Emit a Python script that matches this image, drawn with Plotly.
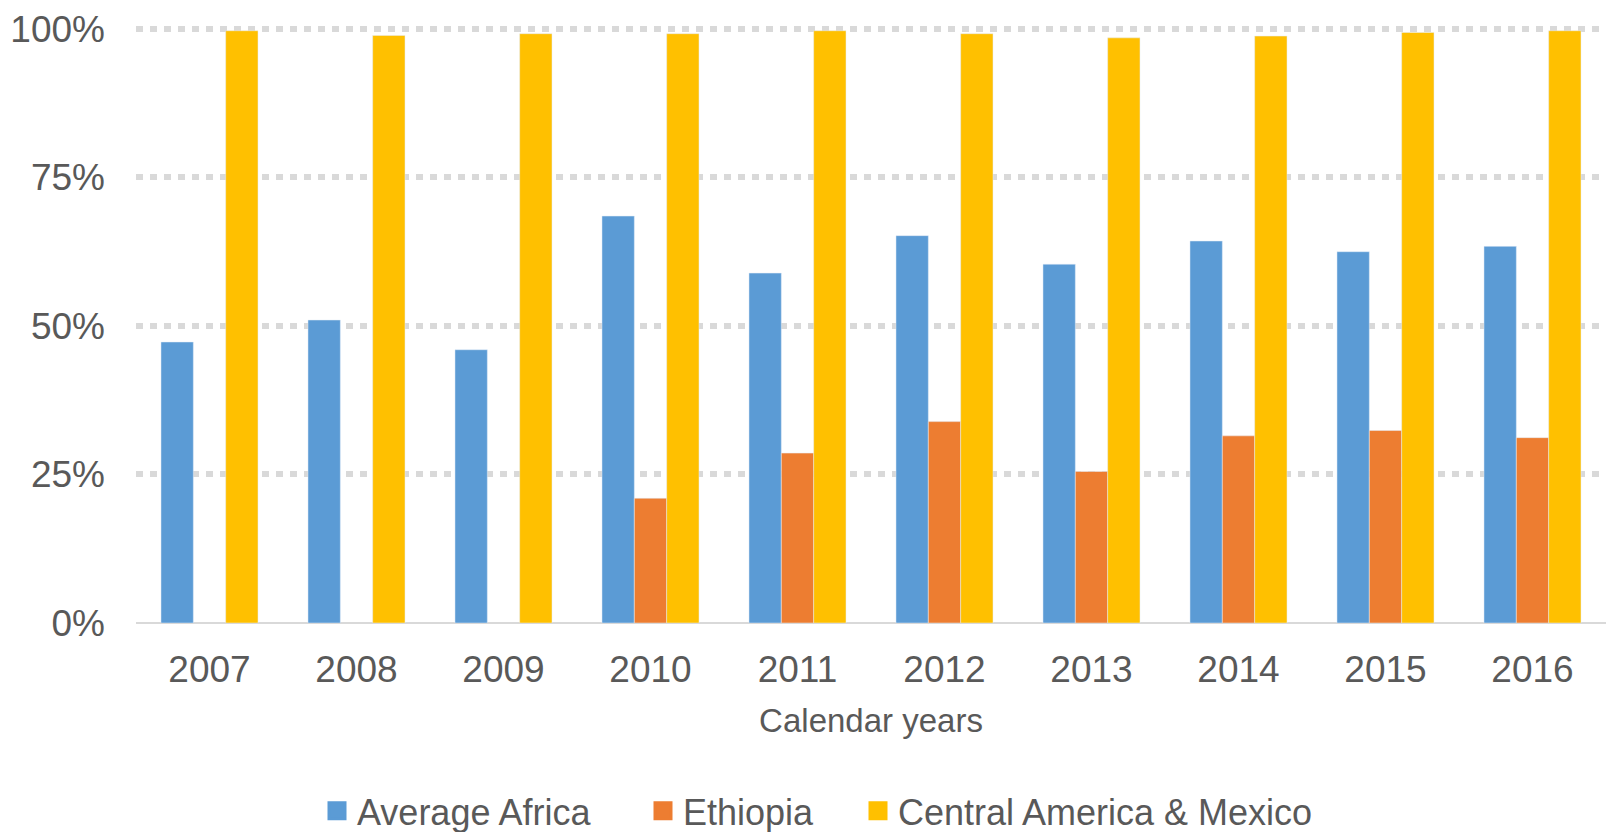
import plotly.graph_objects as go

years = ["2007", "2008", "2009", "2010", "2011", "2012", "2013", "2014", "2015", "2016"]
average_africa = [0.473, 0.510, 0.460, 0.685, 0.589, 0.652, 0.604, 0.643, 0.625, 0.634]
ethiopia = [None, None, None, 0.210, 0.286, 0.339, 0.255, 0.315, 0.324, 0.312]
central_america_mexico = [0.997, 0.989, 0.992, 0.992, 0.997, 0.992, 0.985, 0.988, 0.994, 0.997]
y_ticks = [0, 0.25, 0.5, 0.75, 1.0]
y_tick_text = ["0%", "25%", "50%", "75%", "100%"]

series = [
    ("Average Africa", average_africa, "#5B9BD5", "legend"),
    ("Ethiopia", ethiopia, "#ED7D31", "legend2"),
    ("Central America & Mexico", central_america_mexico, "#FFC000", "legend3"),
]

FONT = "Liberation Sans, Arial, sans-serif"
GREY = "#595959"

fig = go.Figure()
for name, vals, color, lg in series:
    fig.add_trace(go.Bar(
        x=years, y=vals, name=name, marker_color=color,
        showlegend=False, legendgroup=name,
    ))
    # legend proxy with a larger square symbol
    fig.add_trace(go.Scatter(
        x=[None], y=[None], mode="markers", name=name, legendgroup=name,
        marker=dict(symbol="square", size=16, color=color, line=dict(color=color, width=3)),
        legend=lg, showlegend=True,
    ))

legend_font = dict(family=FONT, size=36, color=GREY)
PW = 1470.0
PH = 594.0
def lx(px):
    return (px - 136) / PW
def ly(py):
    return (623 - py) / PH

common = dict(orientation="h", xanchor="left", yanchor="middle", font=legend_font,
              bgcolor="rgba(0,0,0,0)", borderwidth=0)

fig.update_layout(
    width=1608, height=832,
    margin=dict(l=136, r=2, t=23, b=209, autoexpand=False),
    paper_bgcolor="white", plot_bgcolor="white",
    barmode="group", bargap=0.34, bargroupgap=0,
    font=dict(family=FONT, color=GREY, size=37),
    legend=dict(x=lx(327 - 10), y=ly(809), **common),
    legend2=dict(x=lx(653 - 10), y=ly(809), **common),
    legend3=dict(x=lx(868 - 10), y=ly(809), **common),
    xaxis=dict(
        type="category", range=[-0.5, 9.5],
        showgrid=False, showline=False, ticks="",
        tickfont=dict(family=FONT, size=37, color=GREY),
        ticklabelstandoff=21,
        title=dict(text="Calendar years", font=dict(family=FONT, size=33, color=GREY), standoff=19),
    ),
    yaxis=dict(
        range=[0, 1.01], tickvals=y_ticks, ticktext=y_tick_text,
        showgrid=True, gridcolor="#D9D9D9", gridwidth=6, griddash="7px,7px",
        zeroline=True, zerolinecolor="#D9D9D9", zerolinewidth=2,
        showline=False, ticks="",
        tickfont=dict(family=FONT, size=37, color=GREY),
        ticklabelstandoff=30,
    ),
)

fig.write_html("out.html", config={"displayModeBar": False},
               post_script="document.body.style.margin='0px';")
